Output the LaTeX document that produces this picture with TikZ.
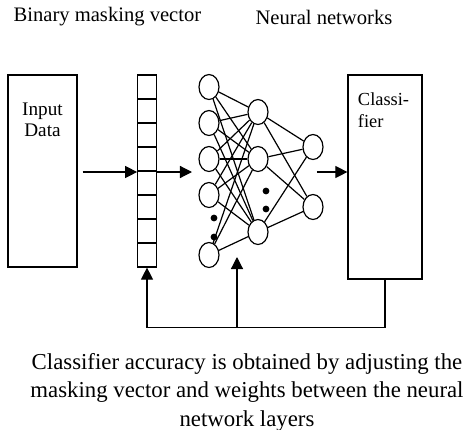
\documentclass[tikz,border=0pt]{standalone}
\usepackage{fontspec}
\setmainfont{Liberation Serif}
\usetikzlibrary{arrows.meta,positioning,shapes.geometric}
\tikzset{every picture/.style={line width=0.6pt}}
\tikzstyle{blk}=[draw,rectangle,inner sep=0pt]
\tikzstyle{neuron}=[draw,ellipse,minimum width=10pt,minimum height=12.5pt,inner sep=0pt]
\tikzstyle{dot}=[circle,fill=black,inner sep=0pt,minimum size=3.4pt]
\tikzstyle{arr}=[-{Triangle[length=6pt,width=6pt]}]

\begin{document}
\begin{tikzpicture}[x=0.5pt,y=-0.5pt]
\useasboundingbox (0,0) rectangle (468,430);
% titles
\node[anchor=west,inner sep=0pt,font=\fontsize{10.3}{12}\selectfont] (T1) at (13,17) {Binary masking vector};
\node[anchor=west,inner sep=0pt,font=\fontsize{10.3}{12}\selectfont] (T2) at (255,17) {Neural networks};
% boxes
\node[blk,minimum width=34.5pt,minimum height=96pt] (In) at (42.5,171) {};
\node[blk,minimum width=9.25pt,minimum height=96pt] (V) at (147,171) {};
\node[blk,minimum width=37pt,minimum height=102pt] (Cl) at (385,177) {};
\node[below=14pt of In.north,inner sep=0pt,align=center,font=\fontsize{9.6}{10.5}\selectfont] (InT) {Input\\Data};
\node[below right=9pt and 5pt of Cl.north west,inner sep=0pt,align=left,font=\fontsize{9.2}{11}\selectfont] (ClT) {Classi-\\fier};
\foreach \k in {1,...,7}
  \draw (137.5,75+24*\k) -- (156.5,75+24*\k);
% neurons
\foreach \y [count=\i] in {87,123,159,195,255}
  \node[neuron] (a\i) at (209,\y) {};
\foreach \y [count=\i] in {112,159,232}
  \node[neuron] (b\i) at (258,\y) {};
\foreach \y [count=\i] in {147,207}
  \node[neuron] (c\i) at (313,\y) {};
\foreach \y in {218,237} \node[dot] at (214,\y) {};
\foreach \y in {191,209} \node[dot] at (266,\y) {};
\foreach \i in {1,...,5}
  \foreach \j in {1,2,3}
    \draw (a\i) -- (b\j);
\foreach \i in {1,2,3}
  \foreach \j in {1,2}
    \draw (b\i) -- (c\j);
% arrows
\coordinate (nnIn) at (192,172);
\coordinate (nnOut) at (317,172);
\coordinate (fb) at (237,327);
\coordinate (fbT) at (237,257);
\draw[arr,shorten <=2.5pt] (In.east |- 0,172) -- (V.west |- 0,172);
\draw[arr] (V.east |- 0,172) -- (nnIn);
\draw[arr] (nnOut) -- (Cl.west |- 0,172);
\draw[arr] (Cl.south) -- ++(0,48) -| (V.south);
\draw[arr] (fb) -- (fbT);
% caption
\node[align=center,inner sep=0pt,font=\fontsize{11.4}{14.25}\selectfont] (Cap) at (247,392)
  {Classifier accuracy is obtained by adjusting the\\masking vector and weights between the neural\\network layers};
\end{tikzpicture}
\end{document}
